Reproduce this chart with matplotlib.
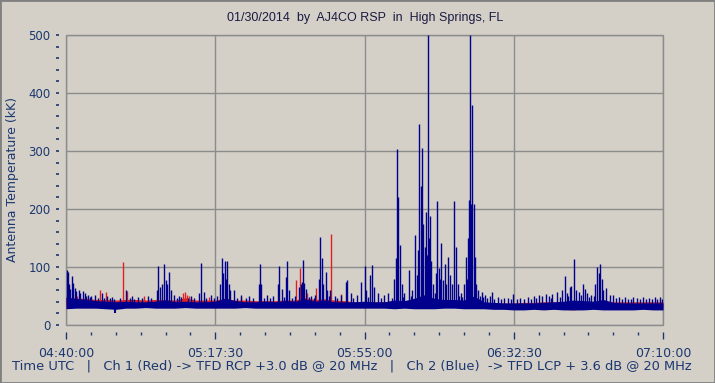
import matplotlib
matplotlib.use("Agg")
import matplotlib.pyplot as plt
from matplotlib.ticker import MultipleLocator, FuncFormatter
from matplotlib.patches import Rectangle

# minutes after 04:40:00 UTC
band_t = [0, 2.5, 5, 7.5, 10, 12.5, 15, 17.5, 20, 22.5, 25, 27.5, 30, 32.5, 35, 37.5,
          40, 42.5, 45, 47.5, 50, 52.5, 55, 57.5, 60, 62.5, 65, 67.5, 70, 72.5, 75, 77.5,
          80, 82.5, 85, 87.5, 90, 92.5, 95, 97.5, 100, 102.5, 105, 107.5, 110, 112.5, 115,
          117.5, 120, 122.5, 125, 127.5, 130, 132.5, 135, 137.5, 140, 142.5, 145, 147.5, 150]
blue_hi = [48, 46, 44, 42, 41, 40, 41, 40, 40, 41, 43, 40, 41, 40, 40, 41,
           46, 42, 40, 40, 41, 40, 42, 41, 45, 41, 43, 40, 40, 40, 41, 40,
           40, 43, 42, 46, 52, 46, 44, 44, 43, 50, 40, 39, 38, 38, 38,
           38, 39, 40, 41, 43, 42, 41, 44, 39, 38, 38, 38, 38, 38]
blue_lo = [28, 29, 29, 29, 28, 27, 29, 29, 30, 29, 29, 29, 30, 29, 29, 29,
           29, 29, 30, 29, 29, 29, 29, 29, 29, 29, 29, 29, 29, 29, 29, 29,
           29, 28, 29, 28, 28, 28, 29, 29, 28, 28, 28, 27, 27, 26, 26,
           27, 26, 27, 26, 26, 26, 27, 26, 26, 26, 26, 27, 26, 26]
red_hi = [47, 46, 46, 44, 44, 43, 44, 44, 43, 44, 44, 43, 47, 43, 43, 43,
          46, 43, 43, 42, 42, 42, 43, 43, 47, 44, 45, 43, 42, 40, 40, 40,
          40, 42, 41, 44, 48, 44, 42, 42, 42, 46, 39, 38, 38, 38, 39,
          39, 40, 40, 40, 42, 41, 40, 42, 40, 40, 40, 40, 40, 40]
red_lo = [30, 31, 31, 31, 30, 29, 31, 31, 32, 31, 31, 31, 32, 31, 31, 31,
          31, 31, 32, 31, 31, 31, 31, 31, 31, 31, 31, 31, 31, 31, 31, 31,
          31, 30, 31, 30, 30, 30, 31, 31, 30, 30, 30, 29, 29, 28, 28,
          29, 28, 29, 27, 26, 28, 29, 27, 28, 28, 28, 29, 28, 28]

# blue (Ch 2, LCP) bursts: time (min), peak (kK)
blue_t = [0.2, 0.5, 0.8, 1.1, 1.4, 1.8, 2.2, 2.6, 3.2, 3.6, 4.2, 4.8, 5.6, 6.4, 7.2, 9.0, 10.3,
          11.5, 15.0, 16.5, 18.0, 20.5, 22.8, 23.2, 23.6, 24.1, 24.5, 25.0, 25.5, 26.0, 26.4,
          27.2, 28.5, 31.5, 33.4, 33.8, 34.6, 36.5, 38.0, 38.8, 39.1, 39.4, 39.9, 40.2, 40.5,
          40.9, 41.3, 42.2, 44.0, 46.0, 48.4, 48.7, 49.1, 50.5, 52.0, 53.2, 53.5, 54.3, 55.2,
          55.6, 56.0, 57.5, 58.6, 59.0, 59.3, 59.6, 59.9, 60.3, 61.6, 62.6, 63.6, 63.9, 64.2,
          64.6, 65.3, 65.7, 66.4, 67.5, 69.0, 70.3, 70.7, 71.5, 73.0, 74.0, 75.1, 75.5, 76.4,
          77.0, 77.4, 78.5, 80.0, 81.0, 82.4, 82.8, 83.2, 83.5, 83.9, 84.3, 85.0, 86.3, 87.0,
          87.8, 88.2, 88.5, 88.8, 89.1, 89.5, 89.8, 90.1, 90.4, 90.7, 91.0, 91.3, 91.5, 91.8,
          92.3, 92.9, 93.3, 93.6, 94.0, 94.3, 94.7, 95.2, 95.6, 96.1, 96.5, 97.0, 97.6, 98.0,
          98.4, 99.2, 100.0, 100.5, 100.8, 101.0, 101.3, 101.6, 101.8, 102.1, 102.4, 102.7,
          103.1, 103.6, 104.4, 105.3, 106.5, 107.0, 108.5, 110.0, 112.4, 114.0, 116.0, 117.5,
          118.9, 119.6, 120.5, 121.3, 122.0, 123.3, 124.5, 125.4, 125.8, 126.6, 127.0, 127.7,
          128.2, 128.8, 129.8, 130.3, 130.8, 132.0, 133.0, 133.5, 133.8, 134.2, 134.6, 135.0,
          135.8, 137.5, 139.0, 140.5, 142.5, 143.5, 145.0, 146.5, 148.0, 149.3]
blue_v = [94, 92, 70, 62, 84, 72, 64, 58, 60, 55, 58, 56, 52, 50, 52, 55, 50,
          48, 60, 50, 48, 50, 60, 102, 65, 70, 105, 78, 70, 92, 60,
          52, 50, 50, 55, 107, 57, 52, 50, 70, 115, 90, 111, 80, 111,
          70, 60, 60, 52, 50, 70, 105, 70, 52, 50, 70, 101, 62, 83,
          111, 60, 50, 65, 70, 75, 112, 72, 62, 50, 52, 80, 151, 115,
          70, 92, 60, 60, 50, 52, 75, 77, 55, 52, 75, 101, 60, 86,
          103, 65, 55, 52, 55, 80, 115, 303, 221, 138, 70, 55, 95, 60,
          155, 87, 130, 347, 239, 306, 175, 135, 195, 120, 500, 150, 188, 110,
          70, 90, 214, 98, 80, 141, 78, 106, 70, 118, 86, 70, 214, 135,
          70, 55, 70, 118, 80, 150, 216, 500, 209, 379, 209, 118,
          70, 61, 57, 52, 50, 57, 48, 47, 53, 46, 48, 50,
          52, 50, 54, 50, 53, 57, 60, 85, 55, 66, 68, 113,
          60, 57, 71, 62, 55, 52, 70, 100, 90, 105, 80, 60,
          63, 52, 48, 48, 49, 47, 48, 47, 49, 48]

# small blue tufts riding on the baseline
tuft_t = [5.0, 6.0, 8.0, 9.6, 11.0, 12.0, 13.6, 16.0, 17.2, 19.0, 21.4, 27.8, 29.0, 30.6,
          32.2, 35.2, 37.2, 43.0, 45.2, 47.0, 49.8, 51.2, 54.8, 56.8, 61.0, 62.2, 66.0,
          68.2, 72.2, 76.0, 79.2, 81.8, 84.6, 86.6, 92.6, 98.8, 99.6, 103.9, 104.8, 105.8,
          107.6, 109.2, 111.0, 111.8, 113.2, 115.0, 116.8, 118.2, 121.8, 124.0, 126.2, 129.3,
          131.4, 132.6, 136.6, 138.2, 139.6, 141.2, 142.0, 144.2, 145.8, 147.2, 148.6, 149.8]
tuft_v = [50, 48, 47, 46, 46, 45, 47, 46, 45, 47, 46, 46, 48, 47,
          46, 46, 47, 47, 46, 46, 47, 46, 48, 47, 48, 46, 50,
          47, 47, 48, 46, 47, 48, 50, 55, 50, 48, 50, 48, 47,
          45, 44, 46, 44, 45, 44, 45, 46, 47, 48, 50, 52,
          48, 50, 52, 46, 44, 45, 44, 45, 44, 45, 44, 45]

# red (Ch 1, RCP) bursts
red_t = [2.8, 8.5, 10.1, 14.2, 15.3, 19.5, 29.5, 29.9, 30.4, 31.0, 36.0, 44.0,
         57.8, 58.8, 60.5, 62.9, 66.7, 69.0, 88.8, 89.8, 101.5]
red_v = [50, 61, 57, 109, 58, 50, 55, 57, 52, 50, 48, 48,
         77, 98, 55, 63, 157, 53, 50, 48, 50]

dip_t = [12.3]
dip_v = [20]

tick_lbl = ["04:40:00", "05:17:30", "05:55:00", "06:32:30", "07:10:00"]

bg = "#d4d0c8"
txt = "#1c3770"
blue = "#00008c"
red = "#e02020"

fig = plt.figure(figsize=(7.15, 3.83), dpi=100, facecolor=bg)
ax = fig.add_axes([66/715, 58/383, 597/715, 290/383], facecolor=bg)

# red channel underneath
ax.fill_between(band_t, red_lo, red_hi, color=red, lw=0, zorder=2)
ax.vlines(red_t, 35, red_v, color=red, lw=1.0, zorder=2)

# blue channel on top
ax.fill_between(band_t, blue_lo, blue_hi, color=blue, lw=0, zorder=3)
ax.vlines(blue_t, 35, blue_v, color=blue, lw=1.0, zorder=3)
ax.vlines(tuft_t, 35, tuft_v, color=blue, lw=1.0, zorder=3)
ax.vlines(dip_t, dip_v, 32, color=blue, lw=1.5, zorder=3)

ax.set_xlim(0, 150)
ax.set_ylim(0, 500)
ax.xaxis.set_major_locator(MultipleLocator(37.5))
ax.xaxis.set_minor_locator(MultipleLocator(6.25))
ax.xaxis.set_major_formatter(FuncFormatter(lambda v, p: tick_lbl[int(round(v / 37.5))] if 0 <= round(v / 37.5) < 5 else ""))
ax.yaxis.set_major_locator(MultipleLocator(100))
ax.yaxis.set_minor_locator(MultipleLocator(20))
ax.grid(True, which="major", color="#8c8c8c", lw=1.0, zorder=1)
ax.set_axisbelow(True)

for s in ["top", "right", "left", "bottom"]:
    ax.spines[s].set_visible(False)
ax.spines["left"].set_position(("outward", 5))
ax.spines["bottom"].set_position(("outward", 5))
ax.add_patch(Rectangle((0, 0), 1, 1, transform=ax.transAxes, fill=False,
                       ec="#8c8c8c", lw=1.0, clip_on=False, zorder=1))

ax.tick_params(axis="y", which="both", length=2, width=1.2, color=txt, pad=4,
               labelsize=8.5, labelcolor=txt)
ax.tick_params(axis="x", which="major", length=5, width=1.0, color=txt, pad=6,
               labelsize=9, labelcolor=txt)
ax.tick_params(axis="x", which="minor", length=2.5, width=1.0, color=txt)

ax.set_ylabel("Antenna Temperature (kK)", color=txt, fontsize=9, labelpad=4)
ax.yaxis.set_label_coords(-0.079, 0.5)

fig.text(365/715, 1 - 18/383, "01/30/2014  by  AJ4CO RSP  in  High Springs, FL",
         ha="center", va="center", fontsize=9, color="#1a1a40", family="Liberation Sans")
fig.text(12/715, 1 - 366/383,
         "Time UTC   |   Ch 1 (Red) -> TFD RCP +3.0 dB @ 20 MHz   |   Ch 2 (Blue)  -> TFD LCP + 3.6 dB @ 20 MHz",
         ha="left", va="center", fontsize=9.4, color=txt)

fig.patches.append(Rectangle((0, 0), 1, 1, transform=fig.transFigure, fill=False,
                             ec="#808080", lw=2, zorder=10))

fig.savefig("out.png", dpi=100, facecolor=bg)
